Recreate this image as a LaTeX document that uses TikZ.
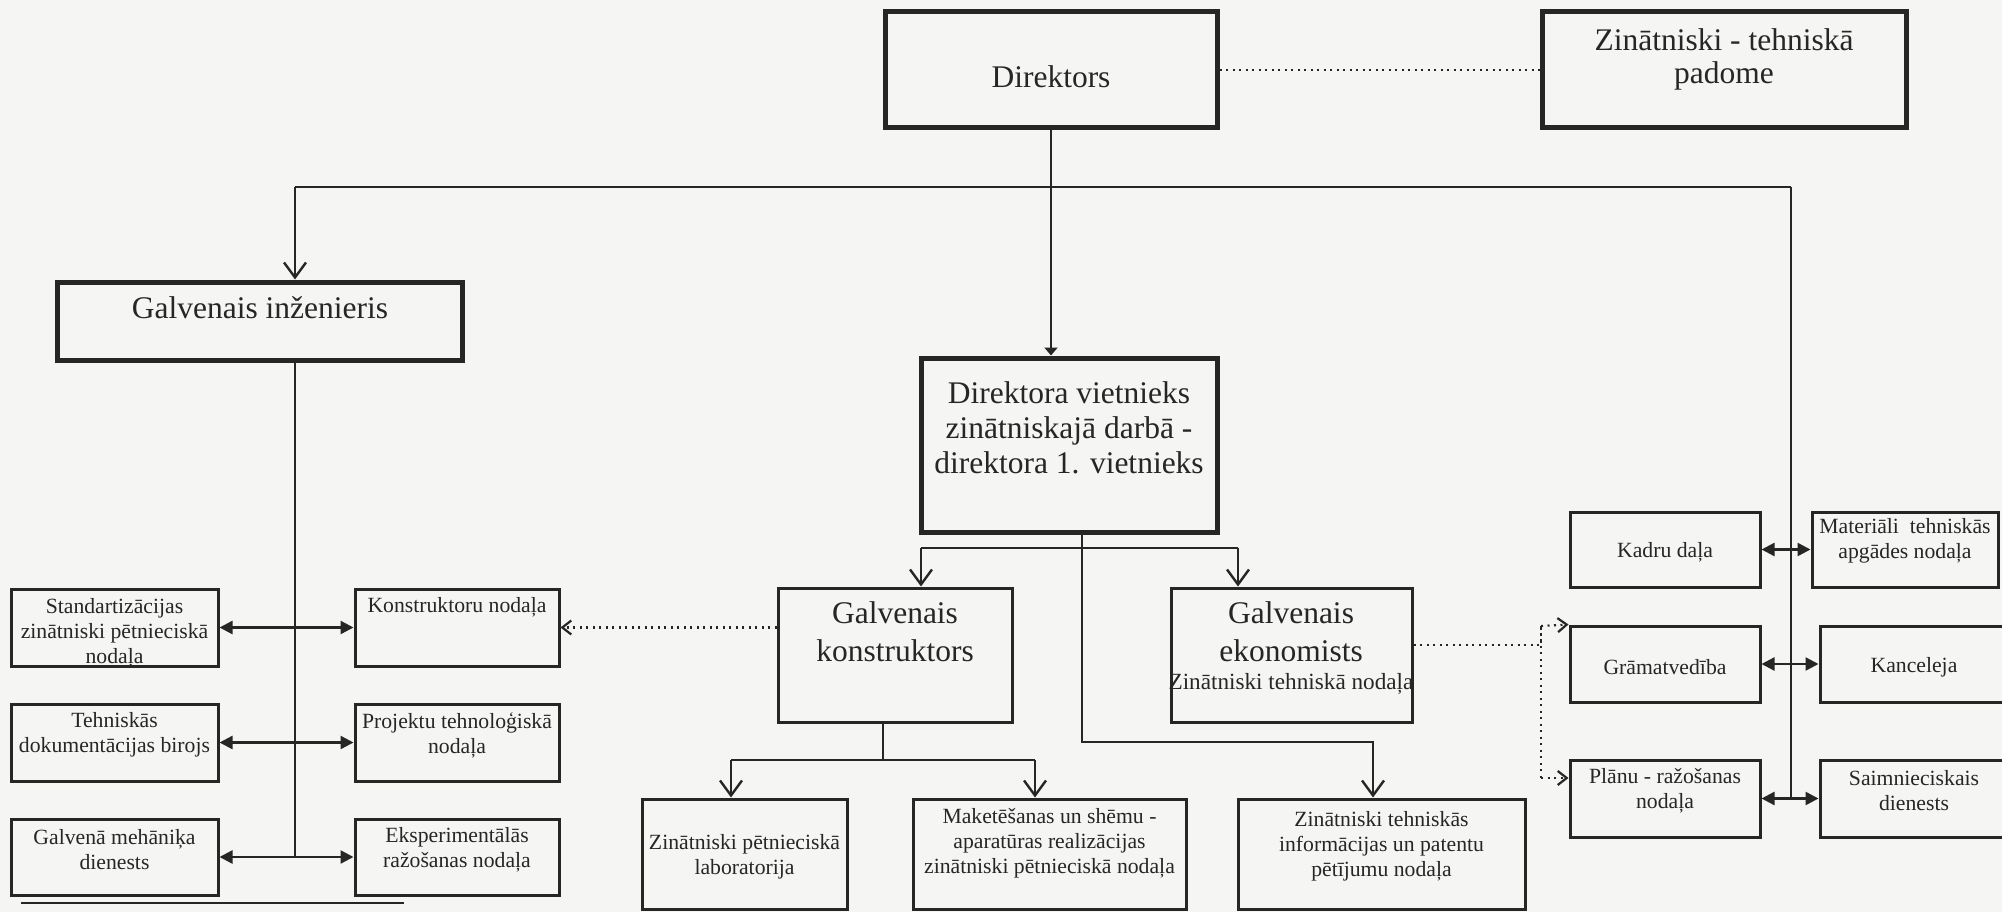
\documentclass[tikz,border=0pt]{standalone}
\usepackage{fontspec}
\setmainfont{Liberation Serif}
\usetikzlibrary{arrows.meta,fit}
\newcommand\fbig{\fontsize{31.5}{35}\selectfont}
\newcommand\fsmall{\fontsize{21.7}{25}\selectfont}
\newcommand\fmidl{\fontsize{23.2}{26}\selectfont}
\definecolor{ink}{RGB}{38,38,38}
\definecolor{paper}{RGB}{245,245,243}
\begin{document}
\begin{tikzpicture}[x=1pt,y=-1pt,
  thickbox/.style={draw=ink, line width=5pt, inner sep=0pt},
  thinbox/.style={draw=ink, line width=3pt, inner sep=0pt},
  conn/.style={draw=ink, line width=2.4pt},
  dots/.style={draw=ink, line width=2.2pt, dash pattern=on 2pt off 4.5pt},
  txt/.style={align=center, inner sep=0pt, text=ink},
  vtip/.tip={Straight Barb[length=15pt,width=22pt]},
  ftip/.tip={Triangle[length=13pt,width=13pt]},
  stip/.tip={Triangle[length=8pt,width=13pt]},
  dtip/.tip={Straight Barb[length=9pt,width=14pt]},
]
\useasboundingbox (0,0) rectangle (2002,912);
\clip (0,0) rectangle (2002,912);
\fill[paper] (0,0) rectangle (2002,912);

% top level
\node[thickbox, fit={(885,12) (1217,128)}] (dir) {};
\node[txt, font=\fbig] (dir-t) at (1051,77) {Direktors};
\node[thickbox, fit={(1542,12) (1906,128)}] (pad) {};
\node[txt, font=\fbig] (pad-t) at (1724,59) {Zinātniski - tehniskā\\[-2pt]padome};
\node[thickbox, fit={(57,282) (462,360)}] (gi) {};
\node[txt, font=\fbig] (gi-t) at (260,308) {Galvenais inženieris};
\node[thickbox, fit={(921,358) (1217,532)}] (viet) {};
\node[txt, font=\fbig] (viet-t) at (1069,428) {Direktora vietnieks\\zinātniskajā darbā -\\direktora 1. vietnieks};
\node[thinbox, fit={(778,588) (1012,722)}] (gk) {};
\node[txt, font=\fbig] (gk-t) at (895,632) {Galvenais\\[3pt]konstruktors};
\node[thinbox, fit={(1171,588) (1412,722)}] (ge) {};
\node[txt, font=\fbig] (ge-t) at (1291,632) {Galvenais\\[3pt]ekonomists};
\node[txt, font=\fmidl] (ge-s) at (1291,684) {Zinātniski tehniskā nodaļa};

% left cluster
\node[thinbox, fit={(11,589) (218,666)}] (std) {};
\node[txt, font=\fsmall] (std-t) at (114.5,633) {Standartizācijas\\zinātniski pētnieciskā\\nodaļa};
\node[thinbox, fit={(355,589) (559,666)}] (kon) {};
\node[txt, font=\fsmall] (kon-t) at (457,607) {Konstruktoru nodaļa};
\node[thinbox, fit={(11,704) (218,781)}] (tehn) {};
\node[txt, font=\fsmall] (tehn-t) at (114.5,735) {Tehniskās\\dokumentācijas birojs};
\node[thinbox, fit={(355,704) (559,781)}] (proj) {};
\node[txt, font=\fsmall] (proj-t) at (457,735) {Projektu tehnoloģiskā\\nodaļa};
\node[thinbox, fit={(11,819) (218,895)}] (gm) {};
\node[txt, font=\fsmall] (gm-t) at (114.5,850) {Galvenā mehāniķa\\dienests};
\node[thinbox, fit={(355,819) (559,895)}] (eks) {};
\node[txt, font=\fsmall] (eks-t) at (457,850) {Eksperimentālās\\ražošanas nodaļa};

% bottom row
\node[thinbox, fit={(642,799) (847,909)}] (zpl) {};
\node[txt, font=\fsmall] (zpl-t) at (744.5,857) {Zinātniski pētnieciskā\\laboratorija};
\node[thinbox, fit={(913,799) (1186,909)}] (mak) {};
\node[txt, font=\fsmall] (mak-t) at (1049.5,843) {Maketēšanas un shēmu -\\aparatūras realizācijas\\zinātniski pētnieciskā nodaļa};
\node[thinbox, fit={(1238,799) (1525,909)}] (zti) {};
\node[txt, font=\fsmall] (zti-t) at (1381.5,846) {Zinātniski tehniskās\\informācijas un patentu\\pētījumu nodaļa};

% right cluster
\node[thinbox, fit={(1570,512) (1760,587)}] (kadru) {};
\node[txt, font=\fsmall] (kadru-t) at (1665,552) {Kadru daļa};
\node[thinbox, fit={(1812,512) (1998,587)}] (mat) {};
\node[txt, font=\fsmall] (mat-t) at (1905,541) {Materiāli\ \ tehniskās\\apgādes nodaļa};
\node[thinbox, fit={(1570,626) (1760,702)}] (gram) {};
\node[txt, font=\fsmall] (gram-t) at (1665,667) {Grāmatvedība};
\node[thinbox, fit={(1820,626) (2014,702)}] (kanc) {};
\node[txt, font=\fsmall] (kanc-t) at (1914,667) {Kanceleja};
\node[thinbox, fit={(1570,760) (1760,837)}] (plan) {};
\node[txt, font=\fsmall] (plan-t) at (1665,791) {Plānu - ražošanas\\nodaļa};
\node[thinbox, fit={(1820,760) (2014,837)}] (saim) {};
\node[txt, font=\fsmall] (saim-t) at (1914,791) {Saimnieciskais\\dienests};

% coordinates
\coordinate (busL) at (295,187);
\coordinate (busR) at (1791,187);
\coordinate (vb) at (1082,548);
\coordinate (kL) at (921,548);
\coordinate (kR) at (1238,548);
\coordinate (vt) at (1082,742);
\coordinate (vz) at (1373,742);
\coordinate (gb) at (883,760);
\coordinate (gL) at (731,760);
\coordinate (gR) at (1035,760);
\coordinate (dtop) at (1541,626);
\coordinate (dbot) at (1541,778);
\coordinate (r1) at (21,903);
\coordinate (r2) at (404,903);

% connectors
\draw[dots] (dir.east) -- (pad.west);
\draw[conn, -{stip}] (dir.south) -- (dir.south |- viet.north);
\draw[conn] (busL) -- (busR);
\draw[conn, -{vtip}] (busL) -- (busL |- gi.north);
\draw[conn] (busR) -- (busR |- plan.east);
\draw[conn] (busL |- gi.south) -- (busL |- gm.east);

\draw[conn, {ftip}-{ftip}] (std.east) -- (kon.west);
\draw[conn, {ftip}-{ftip}] (tehn.east) -- (proj.west);
\draw[conn, {ftip}-{ftip}] (gm.east) -- (eks.west);

\draw[conn, {ftip}-{ftip}] (kadru.east) -- (mat.west);
\draw[conn, {ftip}-{ftip}] (gram.east) -- (kanc.west);
\draw[conn, {ftip}-{ftip}] (plan.east) -- (saim.west);

\draw[conn] (viet.south -| vb) -- (vb);
\draw[conn] (kL) -- (kR);
\draw[conn, -{vtip}] (kL) -- (kL |- gk.north);
\draw[conn, -{vtip}] (kR) -- (kR |- ge.north);
\draw[conn, -{vtip}] (vb) -- (vt) -- (vz) -- (vz |- zti.north);

\draw[conn] (gk.south -| gb) -- (gb);
\draw[conn] (gL) -- (gR);
\draw[conn, -{vtip}] (gL) -- (gL |- zpl.north);
\draw[conn, -{vtip}] (gR) -- (gR |- mak.north);

\draw[dots, -{dtip}] (gk.west |- kon.east) -- (kon.east);
\draw[dots] ([yshift=10pt]ge.east) -| (dtop);
\draw[dots, -{dtip}] (dtop) -- (gram.north west);
\draw[dots] (dtop) -- (dbot);
\draw[dots, -{dtip}] (dbot) -- (dbot -| plan.west);

\draw[conn, line width=2pt] (r1) -- (r2);
\end{tikzpicture}
\end{document}
